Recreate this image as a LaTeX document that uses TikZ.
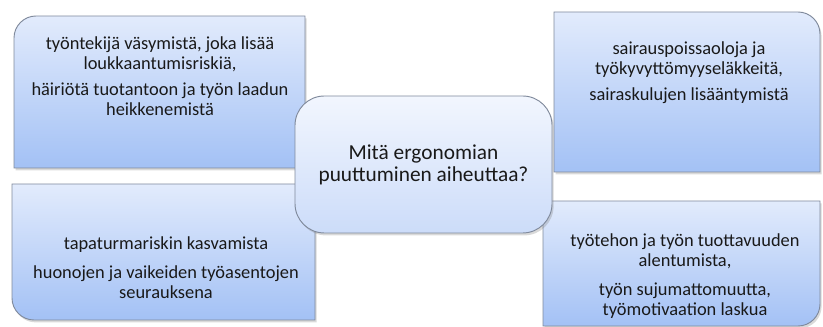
\documentclass[tikz,border=0pt]{standalone}
\usepackage{fontspec}
\setmainfont{Carlito}
\usetikzlibrary{shadows}
\definecolor{boxtop}{RGB}{226,235,252}
\definecolor{boxbot}{RGB}{163,193,245}
\definecolor{midtop}{RGB}{242,246,254}
\definecolor{midbot}{RGB}{204,220,249}
\definecolor{boxline}{RGB}{128,138,156}
\definecolor{txt}{RGB}{25,25,25}
\begin{document}
\begin{tikzpicture}[x=0.75pt,y=0.75pt,
  outer/.style={top color=boxtop, bottom color=boxbot, draw=boxline, line width=0.7pt,
    drop shadow={opacity=0.3, shadow xshift=1.2pt, shadow yshift=-1.8pt}},
  middle/.style={top color=midtop, bottom color=midbot, draw=boxline, line width=0.7pt,
    drop shadow={opacity=0.3, shadow xshift=1.2pt, shadow yshift=-1.8pt}},
  lbl/.style={align=center, text=txt, inner sep=0pt, font=\fontsize{13.8}{15}\selectfont}]
\useasboundingbox (0,0) rectangle (823,327);

% outer boxes, one rounded corner each
\path[outer] (305,159) -- (14,159) -- (14,289) arc[start angle=180, end angle=90, radius=22] -- (305,311) -- cycle;
\path[outer] (554,155) -- (554,315) -- (798,315) arc[start angle=90, end angle=0, radius=22] -- (820,155) -- cycle;
\path[outer] (315,143) -- (12,143) -- (12,29) arc[start angle=180, end angle=270, radius=22] -- (315,7) -- cycle;
\path[outer] (543,126) -- (543,1) -- (798,1) arc[start angle=270, end angle=360, radius=22] -- (820,126) -- cycle;

% centre box
\path[middle, rounded corners=22] (295,94) rectangle (552,231);

\node[lbl, anchor=north] (tl) at (160,291) {työntekijä väsymistä, joka lisää\\ loukkaantumisriskiä,\\[5pt] häiriötä tuotantoon ja työn laadun\\ heikkenemistä};
\node[lbl, anchor=north] (tr) at (689,286) {sairauspoissaoloja ja\\ työkyvyttömyyseläkkeitä,\\[5pt] sairaskulujen lisääntymistä};
\node[lbl, anchor=south] (bl) at (166,28) {tapaturmariskin kasvamista\\[6.5pt] huonojen ja vaikeiden työasentojen\\ seurauksena};
\node[lbl, anchor=south] (br) at (685,8) {työtehon ja työn tuottavuuden\\ alentumista,\\[7pt] työn sujumattomuutta,\\ työmotivaation laskua};
\node[lbl, font=\fontsize{16}{16.5}\selectfont] (q) at (423.5,162.5) {Mitä ergonomian\\ puuttuminen aiheuttaa?};
\end{tikzpicture}
\end{document}
